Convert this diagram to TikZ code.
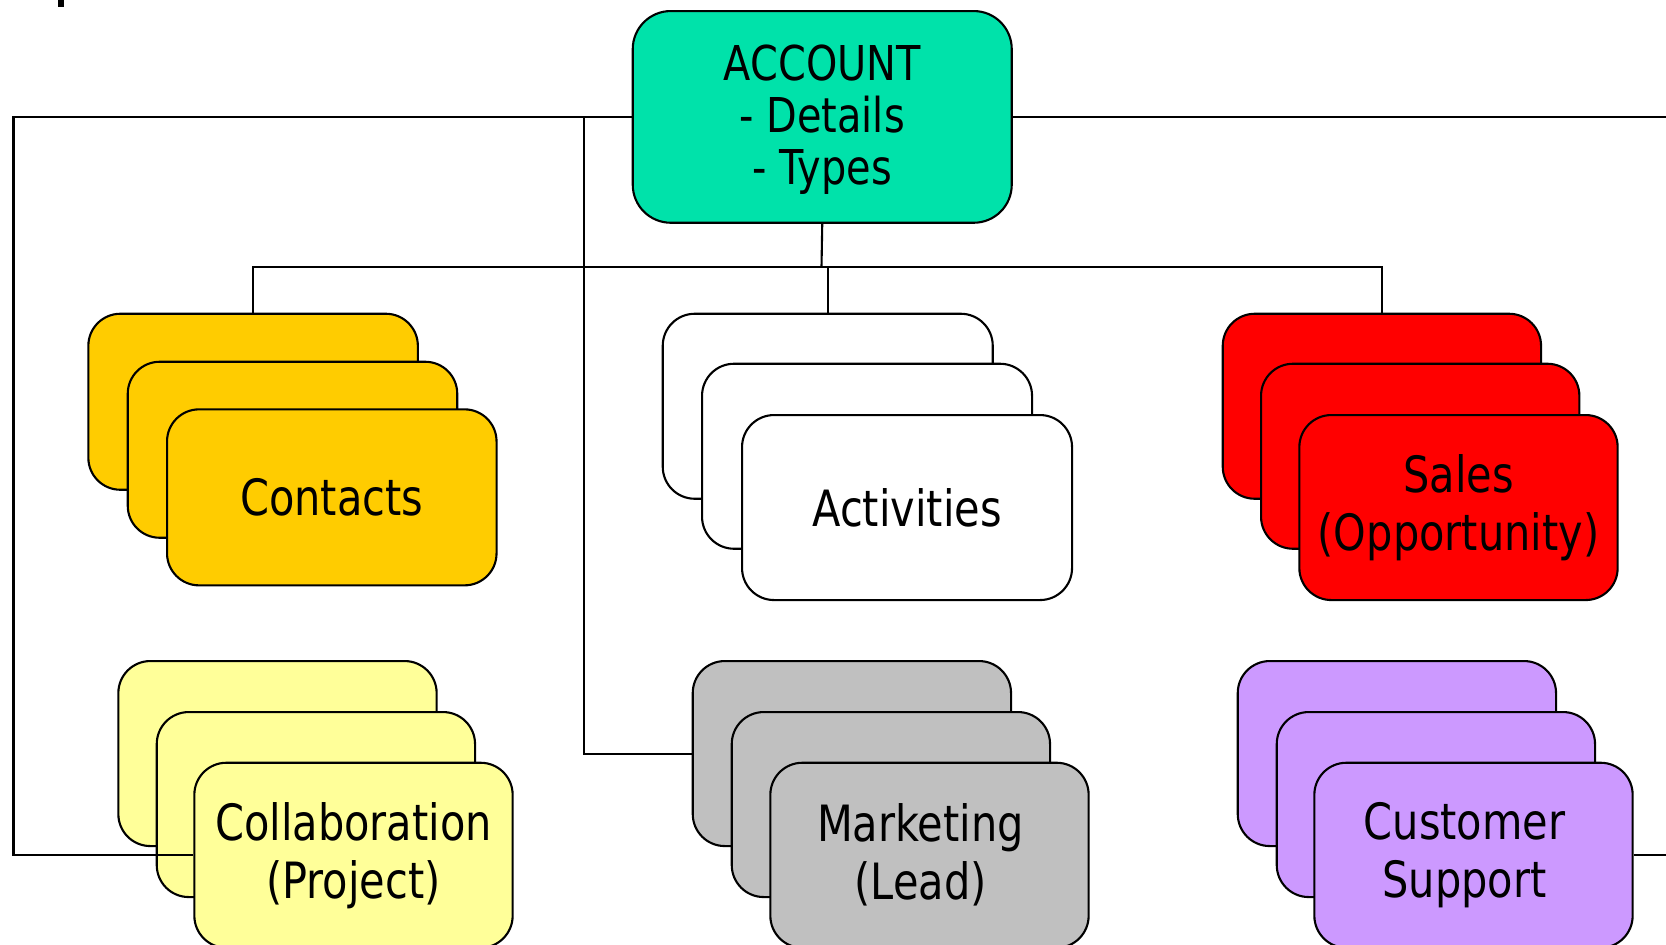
\documentclass[tikz,border=0pt]{standalone}
\usepackage{fontspec}
\setmainfont{DejaVu Sans}[FakeStretch=0.83]
\definecolor{accteal}{RGB}{0,226,170}
\definecolor{congold}{RGB}{255,204,0}
\definecolor{salred}{RGB}{255,0,0}
\definecolor{colyel}{RGB}{255,255,153}
\definecolor{margrey}{RGB}{192,192,192}
\definecolor{cuslav}{RGB}{204,153,255}
\begin{document}
\begin{tikzpicture}[x=1pt,y=-1pt,
  line width=2.1pt,
  acc/.style={draw=black,rounded corners=38pt,minimum width=379pt,minimum height=211.7pt,inner sep=0pt,anchor=north west},
  stk/.style={draw=black,rounded corners=32pt,inner sep=0pt,anchor=north west,align=center,font=\fontsize{50}{58}\selectfont},
  big/.style={stk,minimum width=330pt,minimum height=185pt},
  con/.style={stk,minimum width=329.5pt,minimum height=176pt,fill=congold},
  sml/.style={stk,minimum width=318.3pt,minimum height=185pt},
  txt/.style={inner sep=0pt,align=center,font=\fontsize{50}{58}\selectfont},
  acctxt/.style={inner sep=0pt,align=center,font=\fontsize{48}{52}\selectfont},
  link/.style={draw=black,line width=2.1pt}
]
\useasboundingbox (0,0) rectangle (1666,945);
\fill[black] (58,0) rectangle (64,7);

% ACCOUNT
\node[acc,fill=accteal] (acc) at (631.7,10) {};
\node[acctxt] (acct) at ([yshift=-3pt]acc.center) {ACCOUNT\\- Details\\- Types};

% Contacts
\node[con] (con1) at (87.3,312.7) {};
\node[con] (con2) at (126.7,360.7) {};
\node[con] (con3) at (166,408.3) {Contacts};

% Activities
\node[big,fill=white] (act1) at (661.7,312.7) {};
\node[big,fill=white] (act2) at (701,362.7) {};
\node[big,fill=white] (act3) at (741,414) {Activities};

% Sales
\node[sml,fill=salred] (sal1) at (1221.7,312.7) {};
\node[sml,fill=salred] (sal2) at (1260,362.7) {};
\node[sml,fill=salred] (sal3) at (1298.3,414) {Sales\\(Opportunity)};

% Collaboration
\node[sml,fill=colyel] (col1) at (117.3,660) {};
\node[sml,fill=colyel] (col2) at (155.7,711) {};
\node[sml,fill=colyel] (col3) at (193.3,761.7) {Collaboration\\(Project)};

% Marketing
\node[sml,fill=margrey] (mar1) at (691.7,660) {};
\node[sml,fill=margrey] (mar2) at (730.7,711) {};
\node[sml,fill=margrey] (mar3) at (769.3,761.7) {};
\node[txt] (mart) at ([xshift=-9pt]mar3.center) {Marketing\\(Lead)};

% Customer Support
\node[sml,fill=cuslav] (cus1) at (1236.7,660) {};
\node[sml,fill=cuslav] (cus2) at (1275.7,711) {};
\node[sml,fill=cuslav] (cus3) at (1313.3,761.7) {};
\node[txt] (cust) at ([xshift=-9pt]cus3.center) {Customer\\Support};

% connectors
\coordinate (lc) at (13.5,500);
\coordinate (mc) at (584,500);
\coordinate (rc) at (1666,500);
\coordinate (bus) at (821.5,266.7);

\draw[link] (acc.west) -| (lc) |- (col3.west);
\draw[link] (acc.west -| mc) |- (mar1.west);
\draw[link] (acc.east) -- (acc.east -| rc);
\draw[link] (cus3.east) -- (cus3.east -| rc);
\draw[link] (acc.south) -- (bus);
\draw[link] (con1.north) |- (bus);
\draw[link] (act1.north) |- (bus);
\draw[link] (sal1.north) |- (bus);
\end{tikzpicture}
\end{document}
